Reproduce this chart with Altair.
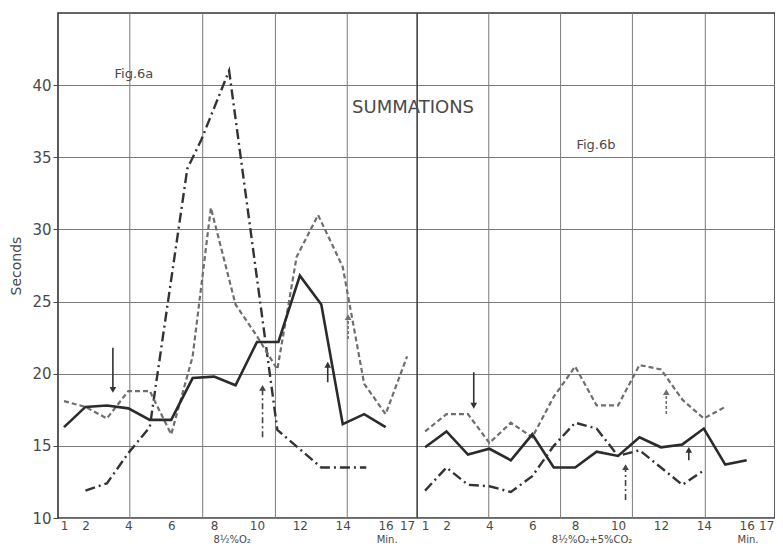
import altair as alt
import pandas as pd

# ---------------- data ----------------
# Fig. 6a  (8½ % O2)   time in minutes, value in seconds
a_solid_t = list(range(1, 17))
a_solid_v = [16.3, 17.7, 17.8, 17.6, 16.8, 16.8, 19.7, 19.8, 19.2, 22.2, 22.2, 26.8, 24.8, 16.5, 17.2, 16.3]
a_dash_t = [1, 2, 3, 4, 5, 6, 7, 7.85, 9, 10, 10.95, 11.85, 12.85, 14, 15, 16, 17]
a_dash_v = [18.1, 17.7, 16.9, 18.8, 18.8, 15.8, 21.2, 31.5, 24.8, 22.6, 20.3, 28.1, 31.0, 27.4, 19.3, 17.2, 21.2]
a_dd_t = [2, 3, 4, 5, 6.75, 7.4, 8.7, 10.95, 13, 15.1]
a_dd_v = [11.9, 12.4, 14.5, 16.3, 34.2, 36.2, 41.0, 16.1, 13.5, 13.5]

# Fig. 6b  (8½ % O2 + 5 % CO2)
b_solid_t = list(range(1, 17))
b_solid_v = [14.9, 16.0, 14.4, 14.8, 14.0, 15.8, 13.5, 13.5, 14.6, 14.3, 15.6, 14.9, 15.1, 16.2, 13.7, 14.0]
b_dash_t = list(range(1, 16))
b_dash_v = [16.0, 17.2, 17.2, 15.2, 16.6, 15.6, 18.4, 20.5, 17.8, 17.8, 20.6, 20.3, 18.2, 16.9, 17.7]
b_dd_t = list(range(1, 15))
b_dd_v = [11.9, 13.5, 12.3, 12.2, 11.8, 12.9, 15.0, 16.6, 16.2, 14.3, 14.7, 13.5, 12.3, 13.3]

# arrows (panel, minute, from value, tip value, line style)
arrow_panel = ["a", "a", "a", "a", "b", "b", "b", "b"]
arrow_t = [3.28, 10.26, 13.3, 14.25, 3.27, 10.35, 12.25, 13.3]
arrow_from = [21.8, 15.6, 19.4, 22.4, 20.1, 11.25, 17.2, 14.0]
arrow_to = [18.5, 19.4, 21.0, 24.3, 17.4, 13.9, 19.1, 15.1]
arrow_style = ["solid", "dashdot", "solid", "dash", "solid", "dashdot", "dash", "solid"]

# axis ticks and graph-paper lines (minutes)
tick_minutes = [1, 2, 4, 6, 8, 10, 12, 14, 16, 17]
y_ticks = [10, 15, 20, 25, 30, 35, 40]
grid_a = [4.07, 7.47, 10.86, 14.21]
grid_b = [3.97, 7.32, 10.67, 14.07]
separator_a = 17.47

# texts
top_text = ["Fig.6a", "SUMMATIONS", "Fig.6b"]
top_panel = ["a", "a", "b"]
top_t = [4.26, 17.28, 8.97]
top_v = [40.77, 38.42, 35.85]
top_size = [13, 18, 13]

bottom_text = ["8½%O₂", "Min.", "8½%O₂+5%CO₂", "Min."]
bottom_panel = ["a", "a", "b", "b"]
bottom_t = [8.84, 16.07, 8.79, 16.06]
bottom_v = 8.49

OFF = 16.84  # horizontal offset of panel b on the shared axis


def shift(panel, t):
    return t + (OFF if panel == "b" else 0.0)


# ---------------- build tables ----------------
rows = []
for panel, sid, style, ts, vs in [
    ("a", "a_solid", "solid", a_solid_t, a_solid_v),
    ("a", "a_dash", "dash", a_dash_t, a_dash_v),
    ("a", "a_dd", "dashdot", a_dd_t, a_dd_v),
    ("b", "b_solid", "solid", b_solid_t, b_solid_v),
    ("b", "b_dash", "dash", b_dash_t, b_dash_v),
    ("b", "b_dd", "dashdot", b_dd_t, b_dd_v),
]:
    for t, v in zip(ts, vs):
        rows.append({"sid": sid, "style": style, "u": shift(panel, t), "v": v, "order": t})
lines = pd.DataFrame(rows)

arr = pd.DataFrame({
    "u": [shift(p, t) for p, t in zip(arrow_panel, arrow_t)],
    "v0": arrow_from,
    "v1": arrow_to,
    "style": arrow_style,
})
arr["dir"] = ["up" if b > a else "down" for a, b in zip(arr.v0, arr.v1)]
arr["vh"] = [b - 0.38 if d == "up" else b + 0.38 for b, d in zip(arr.v1, arr.dir)]

grid_df = pd.DataFrame({"u": grid_a + [shift("b", g) for g in grid_b]})
sep_df = pd.DataFrame({"u": [separator_a]})

top_df = pd.DataFrame({
    "u": [shift(p, t) for p, t in zip(top_panel, top_t)],
    "v": top_v, "text": top_text, "size": top_size,
})
bot_df = pd.DataFrame({
    "u": [shift(p, t) for p, t in zip(bottom_panel, bottom_t)],
    "v": [bottom_v] * len(bottom_text), "text": bottom_text,
})

tick_u = tick_minutes + [shift("b", t) for t in tick_minutes]

# ---------------- encodings ----------------
FONT = "DejaVu Sans"
TXT = "#4a4a4a"
xscale = alt.Scale(domain=[0.72, 34.16], nice=False, zero=False)
yscale = alt.Scale(domain=[10, 45], nice=False, zero=False)

xaxis = alt.Axis(
    values=tick_u,
    labelExpr=f"toString(datum.value < 17.5 ? round(datum.value) : round(datum.value - {OFF}))",
    grid=False, ticks=False, domain=False, title=None,
    labelFontSize=12, labelColor=TXT, labelPadding=2, labelFont=FONT,
    labelOverlap=False, labelFlush=False,
    labelOffset={"condition": {"test": "datum.value > 33.5", "value": -2}, "value": 0},
)
yaxis = alt.Axis(
    values=y_ticks, grid=True, gridColor="#7a7a7a", gridWidth=1,
    ticks=True, tickSize=5, tickColor="#444", domain=False,
    labelFontSize=15, labelColor=TXT, labelPadding=2, labelFont=FONT,
    labelFlush=False, labelOverlap=False,
    title="Seconds", titleFontSize=14, titleFontWeight="normal",
    titleColor=TXT, titlePadding=8, titleFont=FONT,
)

X = alt.X("u:Q", scale=xscale, axis=xaxis)
Y = alt.Y("v:Q", scale=yscale, axis=yaxis)

vgrid = alt.Chart(grid_df).mark_rule(color="#7a7a7a", strokeWidth=1).encode(
    x=alt.X("u:Q", scale=xscale, axis=xaxis))
sep = alt.Chart(sep_df).mark_rule(color="#444", strokeWidth=1.6).encode(
    x=alt.X("u:Q", scale=xscale, axis=xaxis))

base = alt.Chart(lines).encode(x=X, y=Y, detail="sid:N", order="order:Q")
l_solid = base.transform_filter("datum.style == 'solid'").mark_line(
    color="#2b2b2b", strokeWidth=2.6, strokeJoin="miter")
l_dash = base.transform_filter("datum.style == 'dash'").mark_line(
    color="#6e6e6e", strokeWidth=2.2, strokeDash=[5, 3])
l_dd = base.transform_filter("datum.style == 'dashdot'").mark_line(
    color="#333333", strokeWidth=2.4, strokeDash=[10, 4, 2, 4])

abase = alt.Chart(arr)
dash_scale = alt.Scale(domain=["solid", "dash", "dashdot"], range=[[1, 0], [3, 2], [6, 3, 2, 3]])
col_scale = alt.Scale(domain=["solid", "dash", "dashdot"], range=["#333333", "#6e6e6e", "#444444"])
shafts = abase.mark_rule(strokeWidth=1.6).encode(
    x=alt.X("u:Q", scale=xscale, axis=xaxis),
    y=alt.Y("v0:Q", scale=yscale, axis=yaxis),
    y2="vh:Q",
    strokeDash=alt.StrokeDash("style:N", scale=dash_scale, legend=None),
    color=alt.Color("style:N", scale=col_scale, legend=None),
)
heads = abase.mark_point(filled=True, size=45, opacity=1).encode(
    x=alt.X("u:Q", scale=xscale, axis=xaxis),
    y=alt.Y("vh:Q", scale=yscale, axis=yaxis),
    shape=alt.Shape("dir:N", scale=alt.Scale(domain=["up", "down"],
                                             range=["triangle-up", "triangle-down"]), legend=None),
    color=alt.Color("style:N", scale=col_scale, legend=None),
)

top_txt = alt.Chart(top_df).mark_text(font=FONT, color=TXT).encode(
    x=alt.X("u:Q", scale=xscale, axis=xaxis),
    y=alt.Y("v:Q", scale=yscale, axis=yaxis),
    text="text:N",
    size=alt.Size("size:Q", scale=None, legend=None),
)
bot_txt = alt.Chart(bot_df).mark_text(font=FONT, color=TXT, fontSize=10,
                                      baseline="middle").encode(
    x=alt.X("u:Q", scale=xscale, axis=xaxis),
    y=alt.Y("v:Q", scale=yscale, axis=yaxis),
    text="text:N",
)

chart = alt.layer(vgrid, sep, l_dd, l_dash, l_solid, shafts, heads, top_txt, bot_txt).properties(
    width=717, height=505,
    autosize=alt.AutoSizeParams(type="none"),
    padding={"left": 50, "top": 5, "right": 0, "bottom": 28},
    background="white",
).configure_view(stroke="#333", strokeWidth=1.6)

chart.save("out.html", embed_options={"renderer": "svg", "actions": False})
